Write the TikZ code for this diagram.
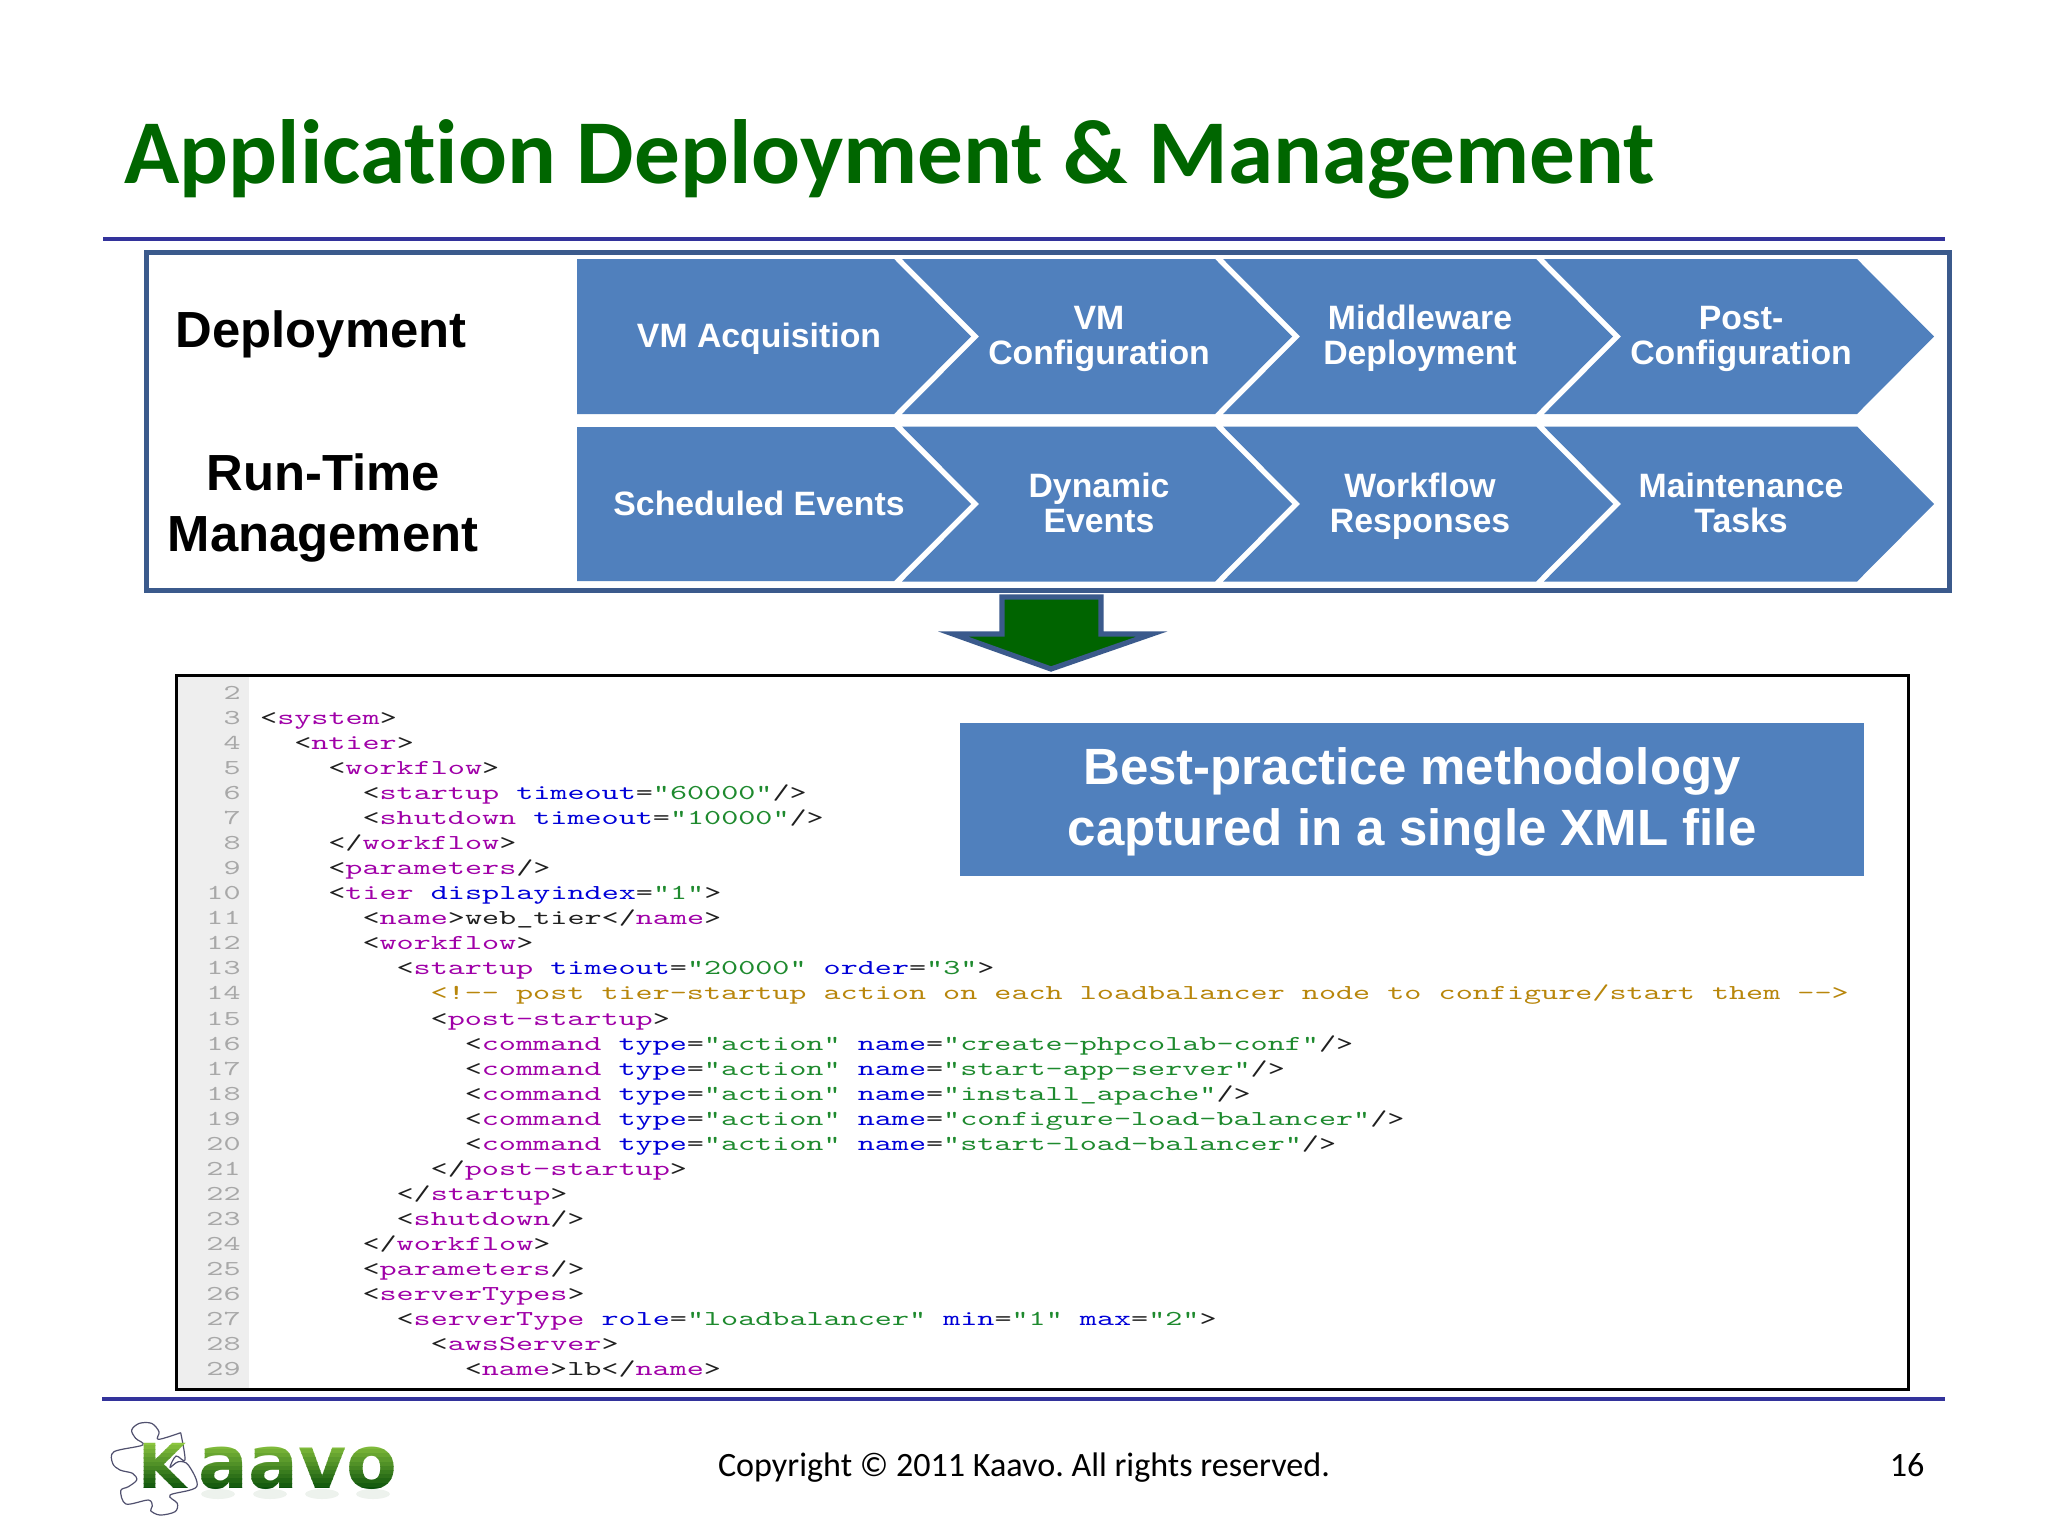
\documentclass[tikz,border=0pt]{standalone}
\usepackage{fontspec}
\setmainfont{Liberation Sans}
\frenchspacing
\newfontfamily\calib[Ligatures=NoCommon]{Carlito}
\newfontfamily\arialb{Liberation Sans}[BoldFont={* Bold}]
\newfontfamily\codefont[FakeStretch=1.535]{Latin Modern Mono}
\newfontfamily\logofont{DejaVu Sans}
\definecolor{titlegreen}{HTML}{006600}
\definecolor{rulecol}{HTML}{33339B}
\definecolor{framecol}{HTML}{3B5A8C}
\definecolor{chevblue}{HTML}{5080BD}
\definecolor{arrowgreen}{HTML}{006400}
\definecolor{gutter}{HTML}{EEEEEE}
\definecolor{cTagc}{HTML}{A000A8}
\definecolor{cAttc}{HTML}{0000D8}
\definecolor{cStrc}{HTML}{1E8A2E}
\definecolor{cComc}{HTML}{B8860B}
\definecolor{cNumc}{HTML}{A8A8A8}
\definecolor{cPunc}{HTML}{202020}
\definecolor{logotop}{HTML}{8CC63F}
\definecolor{logobot}{HTML}{0B520B}
\definecolor{puzzle}{HTML}{50506E}
\newcommand\tg[1]{\textcolor{cTagc}{#1}}
\newcommand\atn[1]{\textcolor{cAttc}{#1}}
\newcommand\str[1]{\textcolor{cStrc}{#1}}
\newcommand\cmt[1]{\textcolor{cComc}{#1}}
\newcommand\chevron[2]{%
  \fill[chevblue] (#1+902,#2) -- (#1+1215,#2) -- (#1+1292,#2+77.5) -- (#1+1215,#2+155) -- (#1+902,#2+155) -- (#1+979,#2+77.5) -- cycle;}
\newcommand\cl[3]{%
  \node[codeline] (code#1) at ({259.8+17.05*#2},{699.5+25.04*(#1-2)}) {#3};
  \node[lineno] (no#1) at (241,{699.5+25.04*(#1-2)}) {#1};}
\newcommand\two[2]{#1\strut\\#2\strut}
\tikzset{
  chevtext/.style={text=white,align=center,inner sep=0pt,font=\arialb\bfseries\fontsize{16.9}{17.6}\selectfont},
  sidelabel/.style={text=black,align=center,inner sep=0pt,font=\arialb\bfseries\fontsize{25.4}{30.7}\selectfont},
  codeline/.style={anchor=base west,inner sep=0pt,text=cPunc,font=\codefont\fontsize{10.6}{12}\selectfont},
  lineno/.style={anchor=base east,inner sep=0pt,text=cNumc,font=\codefont\fontsize{10.6}{12}\selectfont},
  slide rule/.style={draw=rulecol,line width=2pt},
  footer/.style={inner sep=0pt,anchor=base,text=black,font=\calib\fontsize{17.05}{19}\selectfont},
}
\begin{document}
\begin{tikzpicture}[x=0.5pt,y=-0.5pt]
\useasboundingbox (0,0) rectangle (2048,1536);
\fill[white] (0,0) rectangle (2048,1536);
% title
\node[anchor=base west,inner sep=0pt,text=titlegreen,font=\calib\bfseries\fontsize{45.6}{50}\selectfont] (title) at (124,183) {Application Deployment \& Management};
\coordinate (r1a) at (103,239); \coordinate (r1b) at (1945,239);
\draw[slide rule] (r1a) -- (r1b);
% frame
\draw[framecol,line width=2.5pt] (146,252.5) rectangle (1949,590);
% first-column shapes
\fill[chevblue] (577,259) -- (894,259) -- (971,336.5) -- (894,414) -- (577,414) -- cycle;
\fill[chevblue] (577,427) -- (894,427) -- (971,504) -- (894,581) -- (577,581) -- cycle;
\foreach \dx in {0,321,642}{\chevron{\dx}{259}\chevron{\dx}{426.5}}
\node[chevtext] (a1) at (759,340) {VM Acquisition\strut};
\node[chevtext] (a2) at (1099,340) {\two{VM}{Configuration}};
\node[chevtext] (a3) at (1420,340) {\two{Middleware}{Deployment}};
\node[chevtext] (a4) at (1741,340) {\two{Post-}{Configuration}};
\node[chevtext] (b1) at (759,508) {Scheduled Events\strut};
\node[chevtext] (b2) at (1099,508) {\two{Dynamic}{Events}};
\node[chevtext] (b3) at (1420,508) {\two{Workflow}{Responses}};
\node[chevtext] (b4) at (1741,508) {\two{Maintenance}{Tasks}};
\node[sidelabel] (dep) at (321,334) {Deployment};
\node[sidelabel] (rtm) at (323,508) {Run-Time\\Management};
% code panel
\fill[gutter] (176,675) rectangle (249,1389);
\draw[black,line width=1.5pt] (176,675) rectangle (1908,1389);
\node[lineno] (no2) at (241,699.5) {2};
\cl{3}{0}{<\tg{system}>}
\cl{4}{2}{<\tg{ntier}>}
\cl{5}{4}{<\tg{workflow}>}
\cl{6}{6}{<\tg{startup} \atn{timeout}=\str{"60000"}/>}
\cl{7}{6}{<\tg{shutdown} \atn{timeout}=\str{"10000"}/>}
\cl{8}{4}{</\tg{workflow}>}
\cl{9}{4}{<\tg{parameters}/>}
\cl{10}{4}{<\tg{tier} \atn{displayindex}=\str{"1"}>}
\cl{11}{6}{<\tg{name}>web\_tier</\tg{name}>}
\cl{12}{6}{<\tg{workflow}>}
\cl{13}{8}{<\tg{startup} \atn{timeout}=\str{"20000"} \atn{order}=\str{"3"}>}
\cl{14}{10}{\cmt{<!-{}- post tier-startup action on each loadbalancer node to configure/start them -{}->}}
\cl{15}{10}{<\tg{post-startup}>}
\cl{16}{12}{<\tg{command} \atn{type}=\str{"action"} \atn{name}=\str{"create-phpcolab-conf"}/>}
\cl{17}{12}{<\tg{command} \atn{type}=\str{"action"} \atn{name}=\str{"start-app-server"}/>}
\cl{18}{12}{<\tg{command} \atn{type}=\str{"action"} \atn{name}=\str{"install\_apache"}/>}
\cl{19}{12}{<\tg{command} \atn{type}=\str{"action"} \atn{name}=\str{"configure-load-balancer"}/>}
\cl{20}{12}{<\tg{command} \atn{type}=\str{"action"} \atn{name}=\str{"start-load-balancer"}/>}
\cl{21}{10}{</\tg{post-startup}>}
\cl{22}{8}{</\tg{startup}>}
\cl{23}{8}{<\tg{shutdown}/>}
\cl{24}{6}{</\tg{workflow}>}
\cl{25}{6}{<\tg{parameters}/>}
\cl{26}{6}{<\tg{serverTypes}>}
\cl{27}{8}{<\tg{serverType} \atn{role}=\str{"loadbalancer"} \atn{min}=\str{"1"} \atn{max}=\str{"2"}>}
\cl{28}{10}{<\tg{awsServer}>}
\cl{29}{12}{<\tg{name}>lb</\tg{name}>}
% callout
\fill[chevblue] (960,723) rectangle (1864,876);
\node[text=white,inner sep=0pt,align=center,font=\arialb\bfseries\fontsize{25.5}{30.7}\selectfont] (callout) at (1412,802) {Best-practice methodology\\captured in a single XML file};
% big arrow
\draw[draw=framecol,fill=arrowgreen,line width=2.6pt,miter limit=10] (1002,597) -- (1101,597) -- (1101,634) -- (1152,634) -- (1051,669) -- (953,634) -- (1002,634) -- cycle;
% bottom rule and footer
\coordinate (r2a) at (102,1399); \coordinate (r2b) at (1945,1399);
\draw[slide rule] (r2a) -- (r2b);
\node[footer] (copy) at (1024,1476) {Copyright © 2011 Kaavo. All rights reserved.};
\node[footer] (page) at (1907,1476) {16};
% logo: puzzle outline
\begin{scope}[shift={(90,1380)},x=0.1667pt,y=-0.1667pt]
\draw[color=puzzle,line width=0.6pt,line join=round] plot[smooth,tension=0.55] coordinates {(272,158) (205,178) (207,155) (185,130) (148,130) (125,150) (137,175) (158,195) (72,215) (68,250) (90,270) (128,280) (140,300) (115,320) (92,332) (108,372) (175,360) (187,378) (182,392) (210,405) (255,395) (262,370) (240,345) (320,320) (295,255) (265,245) (240,262) (258,228) (285,240) (272,158)};
\end{scope}
% logo: soft reflection under the letters
\foreach \cx/\rx in {218/17,270/17,322/17,373/17}{
  \fill[logobot,opacity=0.07] (\cx,1494) ellipse [x radius=\rx,y radius=5];
}
% logo: wordmark, built in bands so that it fades from light to dark green
\foreach \i in {0,...,11}{
  \pgfmathsetmacro{\ya}{1441+4.2*\i}
  \pgfmathsetmacro{\yb}{1441+4.2*(\i+1)+0.3}
  \pgfmathtruncatemacro{\mixv}{100-100*\i/11}
  \colorlet{lgband}{logotop!\mixv!logobot}
  \begin{scope}
  \clip (130,\ya) rectangle (405,\yb);
  \node[anchor=base west,inner sep=0pt,text=lgband,font=\logofont\bfseries\fontsize{31}{34}\selectfont] (logok\i) at (138,1488) {K};
  \node[anchor=base west,inner sep=0pt,text=lgband,font=\logofont\bfseries\fontsize{37}{40}\selectfont] (logoa\i) at (198,1488) {aavo};
  \end{scope}
}
\end{tikzpicture}
\end{document}
